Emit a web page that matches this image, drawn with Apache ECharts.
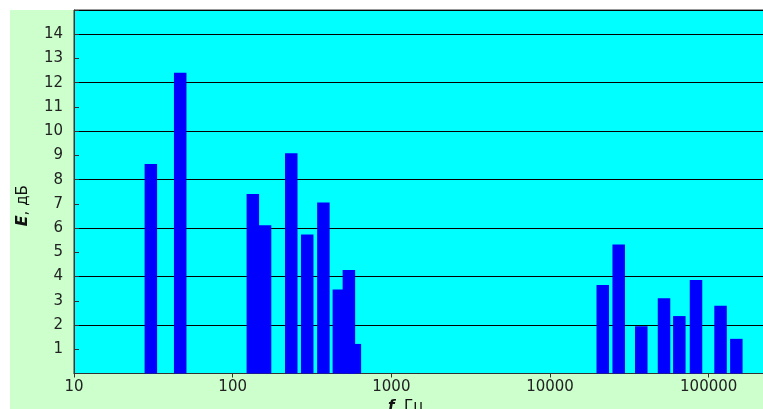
<!DOCTYPE html>
<html>
<head>
<meta charset="utf-8">
<script src="https://cdn.jsdelivr.net/npm/echarts@6/dist/echarts.min.js"></script>
<style>
html,body{margin:0;padding:0;background:#ffffff;}
#c{width:763px;height:409px;}
</style>
</head>
<body>
<div id="c"></div>
<script>
// Frequencies (Hz) of the bars and their levels (dB)
var freqs = [30.5, 46.7, 134, 160, 234, 295, 373, 467, 540, 589,
             21500, 27100, 37600, 52300, 65300, 83200, 118800, 149400];
var levels = [8.65, 12.41, 7.41, 6.12, 9.09, 5.74, 7.06, 3.47, 4.27, 1.22,
              3.65, 5.32, 1.95, 3.11, 2.37, 3.86, 2.80, 1.43];
var xTickLabels = ['10', '100', '1000', '10000', '100000'];
var yTickLabels = ['1','2','3','4','5','6','7','8','9','10','11','12','13','14'];
var yTitle = ['E', ', дБ'];
var xTitle = ['f', ', Гц'];

var barData = freqs.map(function (f, i) { return [f, levels[i]]; });

var FONT = 'DejaVu Sans';
var chart = echarts.init(document.getElementById('c'), null, {renderer: 'canvas'});
chart.setOption({
  animation: false,
  backgroundColor: '#ffffff',
  graphic: [{
    type: 'rect', left: 10, top: 10, z: -10, silent: true,
    shape: {width: 753, height: 399},
    style: {fill: '#ccffcc'}
  }],
  grid: {
    left: 74, top: 10, right: -104.35, bottom: 35.5,
    outerBoundsMode: 'none', containLabel: false,
    show: true, backgroundColor: '#00ffff',
    borderColor: '#333333', borderWidth: 1
  },
  xAxis: [{
    type: 'log', logBase: 10, min: 10, max: 1000000,
    axisLine: {show: true, lineStyle: {color: '#333333', width: 1}},
    axisTick: {show: true, inside: false, length: 4, lineStyle: {color: '#333333'}},
    splitLine: {show: false},
    minorTick: {show: false},
    axisLabel: {
      margin: 6, color: '#222222', fontFamily: FONT, fontSize: 15,
      formatter: function (v) {
        var e = Math.round(Math.log10(v));
        return xTickLabels[e - 1] || '';
      }
    },
    name: '{b|' + xTitle[0] + '}{n|' + xTitle[1] + '}',
    nameLocation: 'middle', nameGap: 23,
    nameTextStyle: {
      padding: [0, 130, 0, 0],
      rich: {
        b: {fontFamily: FONT, fontSize: 15, fontWeight: 'bold', fontStyle: 'italic', color: '#111111'},
        n: {fontFamily: FONT, fontSize: 15, color: '#111111'}
      }
    }
  }],
  yAxis: [{
    type: 'value', min: 0, max: 15, interval: 2,
    axisLine: {show: true, lineStyle: {color: '#333333', width: 1}},
    axisTick: {show: false},
    axisLabel: {show: false},
    splitLine: {show: true, lineStyle: {color: '#000000', width: 1}},
    name: '{b|' + yTitle[0] + '}{n|' + yTitle[1] + '}',
    nameLocation: 'middle', nameGap: 43,
    nameTextStyle: {
      padding: [0, 28, 0, 0],
      rich: {
        b: {fontFamily: FONT, fontSize: 16, fontWeight: 'bold', fontStyle: 'italic', color: '#111111'},
        n: {fontFamily: FONT, fontSize: 15, color: '#111111'}
      }
    }
  }, {
    type: 'value', min: 0, max: 15, interval: 1, position: 'left',
    axisLine: {show: false},
    axisTick: {show: true, inside: true, length: 5, lineStyle: {color: '#333333'}},
    splitLine: {show: false},
    axisLabel: {
      margin: 11, color: '#222222', fontFamily: FONT, fontSize: 15,
      formatter: function (v) {
        return yTickLabels[v - 1] || '';
      }
    }
  }],
  series: [{
    type: 'bar',
    xAxisIndex: 0, yAxisIndex: 0,
    barWidth: 12.5,
    data: barData,
    itemStyle: {color: '#0000ff'}
  }]
});
</script>
</body>
</html>
